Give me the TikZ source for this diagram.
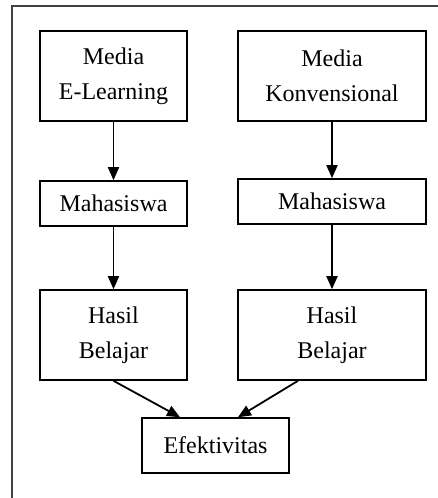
\documentclass[tikz,border=0pt]{standalone}
\usepackage{fontspec}
\setmainfont{Liberation Serif}
\usetikzlibrary{arrows.meta}

\begin{document}
\begin{tikzpicture}[x=0.5pt, y=-0.5pt,
    every node/.style={font=\fontsize{12}{17.5}\selectfont, align=center},
    box/.style={draw, line width=0.8pt, inner sep=0pt},
    arr/.style={-{Triangle[length=6.5pt,width=5.5pt]}, line width=0.9pt}]
    \useasboundingbox (0,0) rectangle (438,498);
    % frame
    \draw[line width=1pt, black!75] (12,520) -- (12,6) -- (460,6);
    \node[box, minimum width=73.5pt, minimum height=45pt] (mel) at (113.5,76) {Media\\E-Learning};
    \node[box, minimum width=94pt, minimum height=45pt] (mkv) at (332,76) {Media\\Konvensional};
    \node[box, minimum width=73.5pt, minimum height=22.5pt] (mhl) at (113.5,203.5) {Mahasiswa};
    \node[box, minimum width=94pt, minimum height=22.5pt] (mhr) at (332,201.5) {Mahasiswa};
    \node[box, minimum width=73.5pt, minimum height=45pt] (hbl) at (113.5,335) {Hasil\\Belajar};
    \node[box, minimum width=94pt, minimum height=45pt] (hbr) at (332,335) {Hasil\\Belajar};
    \node[box, minimum width=73.5pt, minimum height=27.5pt] (efk) at (215.5,445.5) {Efektivitas};
    \draw[arr] (mel) -- (mhl);
    \draw[arr] (mkv) -- (mhr);
    \draw[arr] (mhl) -- (hbl);
    \draw[arr] (mhr) -- (hbr);
    \draw[arr] (hbl.south) -- ([xshift=-17.75pt]efk.north);
    \draw[arr] ([xshift=-17pt]hbr.south) -- ([xshift=11.25pt]efk.north);
\end{tikzpicture}
\end{document}
